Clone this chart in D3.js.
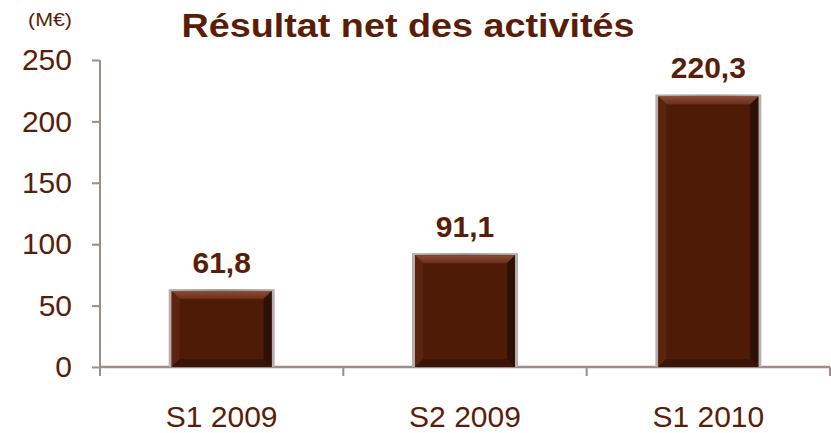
<!DOCTYPE html>
<html>
<head>
<meta charset="utf-8">
<script src="https://cdn.jsdelivr.net/npm/d3@7"></script>
<style>
  body { margin: 0; background: #fff; }
  text { font-family: "Liberation Sans", Arial, sans-serif; }
</style>
</head>
<body>
<svg></svg>
<script>
// chart data
const categories = ["S1 2009", "S2 2009", "S1 2010"];
const values = [61.8, 91.1, 220.3];
const valueLabels = ["61,8", "91,1", "220,3"];
const yTicks = [0, 50, 100, 150, 200, 250];

const width = 831, height = 433;
const textColor = "#5a1e08";
const axisColor = "#9c8c8a";

const svg = d3.select("svg").attr("width", width).attr("height", height);

const x = d3.scaleBand().domain(categories).range([100, 830]);
const y = d3.scaleLinear().domain([0, 250]).range([367, 60]);

// gradients for the bevelled bars
const defs = svg.append("defs");
const shadow = defs.append("linearGradient").attr("id", "shadow");
shadow.append("stop").attr("offset", "0%").attr("stop-color", "#b8b0ae");
shadow.append("stop").attr("offset", "50%").attr("stop-color", "#9a9290");
shadow.append("stop").attr("offset", "100%").attr("stop-color", "#b8b0ae");

const topGrad = defs.append("linearGradient").attr("id", "topbev")
    .attr("x1", 0).attr("x2", 0).attr("y1", 0).attr("y2", 1);
topGrad.append("stop").attr("offset", "0%").attr("stop-color", "#8c4c36");
topGrad.append("stop").attr("offset", "100%").attr("stop-color", "#6a2e18");

// title
svg.append("text")
    .attr("x", 408).attr("y", 37)
    .attr("text-anchor", "middle")
    .attr("font-size", 33).attr("font-weight", "bold")
    .attr("textLength", 453).attr("lengthAdjust", "spacingAndGlyphs")
    .attr("fill", textColor)
    .text("Résultat net des activités");

// unit label
svg.append("text")
    .attr("x", 50).attr("y", 26)
    .attr("text-anchor", "middle")
    .attr("font-size", 18)
    .attr("textLength", 44).attr("lengthAdjust", "spacingAndGlyphs")
    .attr("fill", textColor)
    .text("(M€)");

// y axis
const yAxis = d3.axisLeft(y).tickValues(yTicks).tickSize(8).tickPadding(20);
const gy = svg.append("g").attr("transform", "translate(100,0)").call(yAxis);
gy.select(".domain").attr("stroke", axisColor).attr("stroke-width", 2).attr("d", "M0,60V376");
gy.selectAll(".tick line").attr("stroke", axisColor).attr("stroke-width", 2);
gy.selectAll(".tick text")
    .attr("font-size", 30).attr("fill", textColor)
    .attr("font-family", "Liberation Sans, Arial, sans-serif");

// x axis: baseline plus separators between categories
svg.append("line")
    .attr("x1", 100).attr("x2", 830).attr("y1", y(0)).attr("y2", y(0))
    .attr("stroke", axisColor).attr("stroke-width", 2.5);
svg.selectAll(".sep")
    .data(categories)
    .enter().append("line")
    .attr("x1", d => x(d) + x.bandwidth()).attr("x2", d => x(d) + x.bandwidth())
    .attr("y1", y(0)).attr("y2", y(0) + 9)
    .attr("stroke", axisColor).attr("stroke-width", 2);

svg.selectAll(".cat")
    .data(categories)
    .enter().append("text")
    .attr("x", d => x(d) + x.bandwidth() / 2)
    .attr("y", 427)
    .attr("text-anchor", "middle")
    .attr("font-size", 30)
    .attr("fill", textColor)
    .text(d => d);

// bars
const barW = 100;
const bev = 8;
const bars = svg.selectAll(".bar")
    .data(values)
    .enter().append("g")
    .attr("transform", (d, i) => `translate(${x(categories[i]) + x.bandwidth() / 2 - barW / 2},0)`);

bars.append("rect")
    .attr("x", -3).attr("width", barW + 6)
    .attr("y", d => y(d) - 2)
    .attr("height", d => y(0) - y(d) + 2)
    .attr("fill", "url(#shadow)");

bars.append("rect")
    .attr("x", 0).attr("width", barW)
    .attr("y", d => y(d))
    .attr("height", d => y(0) - y(d))
    .attr("fill", "#4d1b06");

// top bevel
bars.append("path")
    .attr("d", d => `M0,${y(d)}H${barW}L${barW - bev},${y(d) + bev}H${bev}Z`)
    .attr("fill", "url(#topbev)");
// left bevel
bars.append("path")
    .attr("d", d => `M0,${y(d)}L${bev},${y(d) + bev}V${y(0) - bev}L0,${y(0)}Z`)
    .attr("fill", "#5a240e");
// right bevel
bars.append("path")
    .attr("d", d => `M${barW},${y(d)}L${barW - bev},${y(d) + bev}V${y(0) - bev}L${barW},${y(0)}Z`)
    .attr("fill", "#2e1006");
// bottom bevel
bars.append("path")
    .attr("d", d => `M0,${y(0)}L${bev},${y(0) - bev}H${barW - bev}L${barW},${y(0)}Z`)
    .attr("fill", "#3a1407");

// value labels
bars.append("text")
    .attr("x", barW / 2)
    .attr("y", d => y(d) - 18)
    .attr("text-anchor", "middle")
    .attr("font-size", 30).attr("font-weight", "bold")
    .attr("fill", textColor)
    .text((d, i) => valueLabels[i]);
</script>
</body>
</html>
